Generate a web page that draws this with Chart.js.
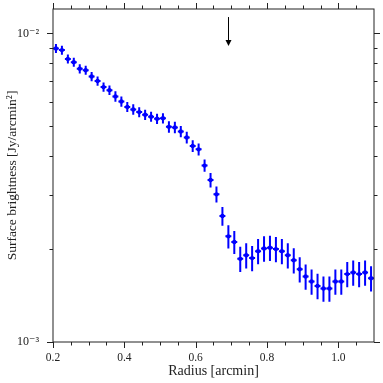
<!DOCTYPE html>
<html>
<head>
<meta charset="utf-8">
<script src="https://cdn.jsdelivr.net/npm/chart.js@4"></script>
<style>
  html, body { margin: 0; padding: 0; background: #fff; }
  #wrap { width: 383px; height: 383px; }
</style>
</head>
<body>
<div id="wrap"><canvas id="chart" width="383" height="383"></canvas></div>
<script>
// radius of each annulus centre [arcmin]
const radius = [
  0.2083, 0.225, 0.2417, 0.2583, 0.275, 0.2917, 0.3083, 0.325, 0.3417, 0.3583,
  0.375, 0.3917, 0.4083, 0.425, 0.4417, 0.4583, 0.475, 0.4917, 0.5083, 0.525,
  0.5417, 0.5583, 0.575, 0.5917, 0.6083, 0.625, 0.6417, 0.6583, 0.675, 0.6917,
  0.7083, 0.725, 0.7417, 0.7583, 0.775, 0.7917, 0.8083, 0.825, 0.8417, 0.8583,
  0.875, 0.8917, 0.9083, 0.925, 0.9417, 0.9583, 0.975, 0.9917, 1.0083, 1.025,
  1.0417, 1.0583, 1.075, 1.0917,
]
// surface brightness [Jy/arcmin^2]
const brightness = [
  0.00894, 0.00883, 0.00827, 0.00807, 0.00768, 0.00760, 0.00725, 0.00701, 0.00670, 0.00655,
  0.00625, 0.00602, 0.00578, 0.00567, 0.00556, 0.00545, 0.00537, 0.00529, 0.00531, 0.00498,
  0.00496, 0.00481, 0.00460, 0.00432, 0.00421, 0.00373, 0.00335, 0.00301, 0.00256, 0.00220,
  0.00211, 0.00186, 0.00191, 0.00187, 0.00197, 0.00201, 0.00202, 0.00200, 0.00197, 0.00191,
  0.00184, 0.00172, 0.00163, 0.00157, 0.00152, 0.00149, 0.00149, 0.00157, 0.00157, 0.00166,
  0.00168, 0.00166, 0.00168, 0.00161,
]
const brightnessErr = [
  0.00030, 0.00030, 0.00028, 0.00027, 0.00026, 0.00026, 0.00025, 0.00024, 0.00023, 0.00023,
  0.00024, 0.00023, 0.00022, 0.00022, 0.00021, 0.00021, 0.00020, 0.00020, 0.00020, 0.00021,
  0.00021, 0.00020, 0.00020, 0.00019, 0.00019, 0.00017, 0.00018, 0.00018, 0.00018, 0.00019,
  0.00018, 0.000175, 0.00018, 0.000176, 0.000185, 0.00019, 0.00019, 0.000188, 0.000185, 0.00018,
  0.000173, 0.000162, 0.000153, 0.000148, 0.000143, 0.00014, 0.00014, 0.000148, 0.000148, 0.000156,
  0.000158, 0.000156, 0.000158, 0.000151,
]
const halfBin = 0.00833

const xMajorTicks = [0.2, 0.4, 0.6, 0.8, 1.0]
const xMinorTicks = [0.25, 0.3, 0.35, 0.45, 0.5, 0.55, 0.65, 0.7, 0.75, 0.85, 0.9, 0.95, 1.05]
const yMajorTicks = [0.001, 0.01]
const yMinorTicks = [0.002, 0.003, 0.004, 0.005, 0.006, 0.007, 0.008, 0.009]
const yTickLabels = ['10⁻³', '10⁻²']

// marker arrow
const arrowX = 0.69
const arrowTop = 0.0113
const arrowTip = 0.0091

const BLUE = '#0000ff'
const INK = '#222'
const SERIF = "'Liberation Serif', 'DejaVu Serif', serif"

const decorations = {
  id: 'decorations',
  beforeDatasetsDraw(chart) {
    const { ctx, scales: { x, y } } = chart
    ctx.save()
    ctx.strokeStyle = BLUE
    ctx.lineWidth = 2
    radius.forEach((r, i) => {
      const px = x.getPixelForValue(r)
      const py = y.getPixelForValue(brightness[i])
      ctx.beginPath()
      ctx.moveTo(px, y.getPixelForValue(brightness[i] + brightnessErr[i]))
      ctx.lineTo(px, y.getPixelForValue(brightness[i] - brightnessErr[i]))
      ctx.moveTo(x.getPixelForValue(r - halfBin), py)
      ctx.lineTo(x.getPixelForValue(r + halfBin), py)
      ctx.stroke()
    })
    ctx.restore()
  },
  afterDraw(chart) {
    const { ctx, chartArea: a, scales: { x, y } } = chart
    ctx.save()
    ctx.strokeStyle = INK
    ctx.lineWidth = 1
    ctx.strokeRect(a.left, a.top, a.right - a.left, a.bottom - a.top)

    const tick = (vals, len) => {
      vals.forEach((v) => {
        const px = Math.round(x.getPixelForValue(v)) + 0.5
        ctx.moveTo(px, a.bottom)
        ctx.lineTo(px, a.bottom + len)
        ctx.moveTo(px, a.top)
        ctx.lineTo(px, a.top - len)
      })
    }
    const ytick = (vals, len) => {
      vals.forEach((v) => {
        const py = Math.round(y.getPixelForValue(v)) + 0.5
        ctx.moveTo(a.left, py)
        ctx.lineTo(a.left - len, py)
        ctx.moveTo(a.right, py)
        ctx.lineTo(a.right + len, py)
      })
    }
    ctx.beginPath()
    tick(xMajorTicks, 6)
    tick(xMinorTicks, 3.5)
    ytick(yMajorTicks, 6)
    ytick(yMinorTicks, 3.5)
    ctx.stroke()

    // arrow
    const ax = Math.round(x.getPixelForValue(arrowX)) + 0.5
    const y0 = y.getPixelForValue(arrowTop)
    const y1 = y.getPixelForValue(arrowTip)
    ctx.strokeStyle = '#000'
    ctx.fillStyle = '#000'
    ctx.beginPath()
    ctx.moveTo(ax, y0)
    ctx.lineTo(ax, y1 - 5)
    ctx.stroke()
    ctx.beginPath()
    ctx.moveTo(ax - 3, y1 - 6)
    ctx.lineTo(ax + 3, y1 - 6)
    ctx.lineTo(ax, y1)
    ctx.closePath()
    ctx.fill()
    ctx.restore()
  },
}

const config = {
  type: 'scatter',
  data: {
    datasets: [
      {
        data: radius.map((r, i) => ({ x: r, y: brightness[i] })),
        backgroundColor: BLUE,
        borderColor: BLUE,
        borderWidth: 0,
        pointRadius: 2.2,
        pointHoverRadius: 2.2,
      },
    ],
  },
  options: {
    responsive: false,
    animation: false,
    events: [],
    layout: { padding: { top: 9, right: 9, left: 0, bottom: 0 } },
    plugins: {
      legend: { display: false },
      tooltip: { enabled: false },
    },
    scales: {
      x: {
        type: 'linear',
        min: 0.2,
        max: 1.1,
        grid: { display: false },
        border: { display: false },
        afterBuildTicks: (s) => { s.ticks = xMajorTicks.map((v) => ({ value: v })) },
        afterFit: (s) => {
          s.height = 41
          s.paddingLeft = 0
          s.paddingRight = 0
        },
        ticks: {
          color: INK,
          padding: 1,
          maxRotation: 0,
          font: { family: SERIF, size: 11.5 },
          callback: (v) => v.toFixed(1),
        },
        title: {
          display: true,
          text: 'Radius [arcmin]',
          color: INK,
          font: { family: SERIF, size: 14 },
          padding: { top: 0, bottom: 3 },
        },
      },
      y: {
        type: 'logarithmic',
        min: 0.001,
        max: 0.012,
        grid: { display: false },
        border: { display: false },
        afterBuildTicks: (s) => { s.ticks = yMajorTicks.map((v) => ({ value: v })) },
        afterFit: (s) => {
          s.width = 53
          s.paddingTop = 0
          s.paddingBottom = 0
        },
        ticks: {
          color: INK,
          padding: 6,
          font: { family: SERIF, size: 12 },
          callback: (v) => yTickLabels[yMajorTicks.indexOf(v)],
        },
        title: {
          display: true,
          text: 'Surface brightness [Jy/arcmin²]',
          color: INK,
          font: { family: SERIF, size: 13.5 },
          padding: { top: 4, bottom: 0 },
        },
      },
    },
  },
  plugins: [decorations],
}

new Chart(document.getElementById('chart'), config)
</script>
</body>
</html>
